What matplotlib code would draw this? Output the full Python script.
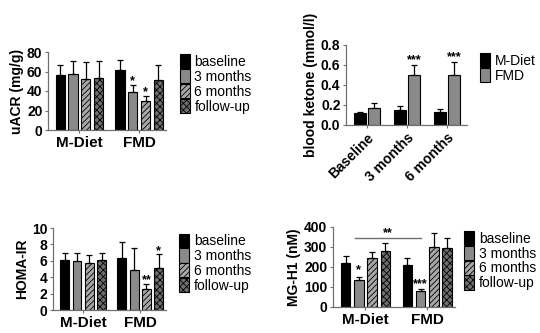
import matplotlib
matplotlib.use("Agg")
import matplotlib.pyplot as plt
import numpy as np

plt.rcParams['font.family'] = ['Liberation Sans', 'DejaVu Sans']

W, H = 540, 333

groups = ["M-Diet", "FMD"]
times = ["baseline", "3 months", "6 months", "follow-up"]

uacr_mdiet = [56, 57, 52.5, 53]
uacr_mdiet_err = [11, 14, 17.5, 18]
uacr_fmd = [61.5, 39, 30, 51.5]
uacr_fmd_err = [10.5, 7, 5, 15.5]
uacr_stars_fmd = ["", "*", "*", ""]
uacr_stars_mdiet = ["", "", "", ""]

ket_cats = ["Baseline", "3 months", "6 months"]
ket_series = ["M-Diet", "FMD"]
ket_mdiet = [0.125, 0.15, 0.13]
ket_mdiet_err = [0.01, 0.04, 0.03]
ket_fmd = [0.17, 0.5, 0.5]
ket_fmd_err = [0.05, 0.1, 0.13]
ket_stars_fmd = ["", "***", "***"]

homa_mdiet = [6.1, 6.0, 5.7, 6.1]
homa_mdiet_err = [0.9, 0.9, 1.0, 0.9]
homa_fmd = [6.4, 4.9, 2.6, 5.1]
homa_fmd_err = [1.9, 2.7, 0.6, 1.7]
homa_stars_fmd = ["", "", "**", "*"]
homa_stars_mdiet = ["", "", "", ""]

mg_mdiet = [220, 135, 245, 282]
mg_mdiet_err = [35, 15, 30, 38]
mg_fmd = [212, 82, 298, 295]
mg_fmd_err = [33, 10, 72, 50]
mg_stars_mdiet = ["", "*", "", ""]
mg_stars_fmd = ["", "***", "", ""]
mg_bracket_value = 345
mg_bracket_label = "**"

styles = [
    dict(facecolor="black", hatch=None),
    dict(facecolor="#8a8a8a", hatch=None),
    dict(facecolor="#a8a8a8", hatch="//////"),
    dict(facecolor="#6e6e6e", hatch="xxxxx"),
]
plt.rcParams['hatch.color'] = '#3a3a3a'
plt.rcParams['hatch.linewidth'] = 0.6

TICK_FS = 10
LAB_FS = 10
GRP_FS = 11
LEG_FS = 10
STAR_FS = 9

fig = plt.figure(figsize=(W / 100, H / 100), dpi=100)


def add_ax(x0, x1, ytop, ybot):
    return fig.add_axes([x0 / W, (H - ybot) / H, (x1 - x0) / W, (ybot - ytop) / H])


def style_ax(ax):
    for s in ["top", "right"]:
        ax.spines[s].set_visible(False)
    for s in ["left", "bottom"]:
        ax.spines[s].set_color("#707070")
        ax.spines[s].set_linewidth(0.9)
    ax.tick_params(axis="both", colors="#707070", length=2.5, width=0.8, pad=1.5)
    for lbl in ax.get_yticklabels() + ax.get_xticklabels():
        lbl.set_color("black")
        lbl.set_fontweight("bold")
        lbl.set_fontsize(TICK_FS)


def grouped(ax, mvals, merr, fvals, ferr, mstars, fstars, ymax, ylabel, yticks, star_off):
    offs = [0, 4.66]
    pos_all = []
    for g, (vals, errs, stars) in enumerate([(mvals, merr, mstars), (fvals, ferr, fstars)]):
        xs = np.arange(4) + offs[g]
        pos_all.append(xs)
        for i in range(4):
            ax.bar(xs[i], vals[i], width=0.72, edgecolor="black", linewidth=0.8,
                   label=times[i] if g == 0 else None, **styles[i])
            ax.errorbar(xs[i], vals[i], yerr=[[0], [errs[i]]], fmt="none", ecolor="black",
                        elinewidth=0.9, capsize=2.2, capthick=0.9)
            if stars[i]:
                ax.text(xs[i], vals[i] + errs[i] + star_off, stars[i], ha="center", va="bottom",
                        fontsize=STAR_FS, fontweight="bold")
    ax.set_xlim(-0.95, 8.25)
    ax.set_ylim(0, ymax)
    ax.set_yticks(yticks)
    ax.set_xticks([1.5, 6.16])
    ax.set_xticklabels(groups)
    ax.set_ylabel(ylabel, fontsize=LAB_FS, fontweight="bold", labelpad=2)
    style_ax(ax)
    for lbl in ax.get_xticklabels():
        lbl.set_fontsize(GRP_FS)
    return pos_all


def legend4(ax, x, y):
    leg = ax.legend(loc="upper left", bbox_to_anchor=(x, y), frameon=False, fontsize=LEG_FS,
                    handlelength=0.7, handleheight=1.2, labelspacing=0.0,
                    handletextpad=0.35, borderaxespad=0)
    return leg


# Panel 1: uACR
ax1 = add_ax(48, 166, 52, 130)
grouped(ax1, uacr_mdiet, uacr_mdiet_err, uacr_fmd, uacr_fmd_err,
        uacr_stars_mdiet, uacr_stars_fmd, 80, "uACR (mg/g)", [0, 20, 40, 60, 80], -2.5)
legend4(ax1, 1.07, 1.04)

# Panel 2: blood ketone
ax2 = add_ax(346, 467, 45, 125)
xc = np.arange(len(ket_cats))
for j, (vals, errs, col) in enumerate([(ket_mdiet, ket_mdiet_err, "black"),
                                       (ket_fmd, ket_fmd_err, "#8a8a8a")]):
    xs = xc + (-0.175 if j == 0 else 0.175)
    ax2.bar(xs, vals, width=0.29, color=col, edgecolor="black", linewidth=0.8,
            label=ket_series[j])
    ax2.errorbar(xs, vals, yerr=[np.zeros(len(vals)), errs], fmt="none", ecolor="black",
                 elinewidth=0.9, capsize=2.2, capthick=0.9)
for i, s in enumerate(ket_stars_fmd):
    if s:
        ax2.text(xc[i] + 0.175, ket_fmd[i] + ket_fmd_err[i] - 0.01, s, ha="center",
                 va="bottom", fontsize=STAR_FS, fontweight="bold")
ax2.set_xlim(-0.52, 2.5)
ax2.set_ylim(0, 0.8)
ax2.set_yticks([0.0, 0.2, 0.4, 0.6, 0.8])
ax2.set_yticklabels(["0.0", "0.2", "0.4", "0.6", "0.8"])
ax2.set_xticks(xc)
ax2.set_xticklabels(ket_cats, rotation=45, ha="right", rotation_mode="anchor")
ax2.set_ylabel("blood ketone (mmol/l)", fontsize=LAB_FS, fontweight="bold", labelpad=2)
style_ax(ax2)
ax2.legend(loc="upper left", bbox_to_anchor=(1.06, 0.97), frameon=False, fontsize=LEG_FS,
           handlelength=0.7, handleheight=1.2, labelspacing=0.0,
           handletextpad=0.35, borderaxespad=0)

# Panel 3: HOMA-IR
ax3 = add_ax(53, 166, 228, 310)
grouped(ax3, homa_mdiet, homa_mdiet_err, homa_fmd, homa_fmd_err,
        homa_stars_mdiet, homa_stars_fmd, 10, "HOMA-IR", [0, 2, 4, 6, 8, 10], -0.3)
legend4(ax3, 1.07, 1.0)

# Panel 4: MG-H1
ax4 = add_ax(333, 455, 227, 307)
pos = grouped(ax4, mg_mdiet, mg_mdiet_err, mg_fmd, mg_fmd_err,
              [""] * 4, [""] * 4, 400, "MG-H1 (nM)", [0, 100, 200, 300, 400], 0)
ax4.text(pos[0][1], mg_mdiet[1] + mg_mdiet_err[1] + 5, mg_stars_mdiet[1], ha="center",
         va="bottom", fontsize=STAR_FS, fontweight="bold")
ax4.text(pos[1][1], mg_fmd[1] + mg_fmd_err[1] - 8, mg_stars_fmd[1], ha="center",
         va="bottom", fontsize=STAR_FS, fontweight="bold")
ax4.plot([pos[0][0] + 0.7, pos[1][1]], [mg_bracket_value] * 2, color="#707070", lw=1.0)
ax4.text((pos[0][0] + 0.7 + pos[1][1]) / 2, mg_bracket_value - 5, mg_bracket_label,
         ha="center", va="bottom", fontsize=STAR_FS, fontweight="bold")
legend4(ax4, 1.03, 1.02)

fig.savefig("out.png", dpi=100)
